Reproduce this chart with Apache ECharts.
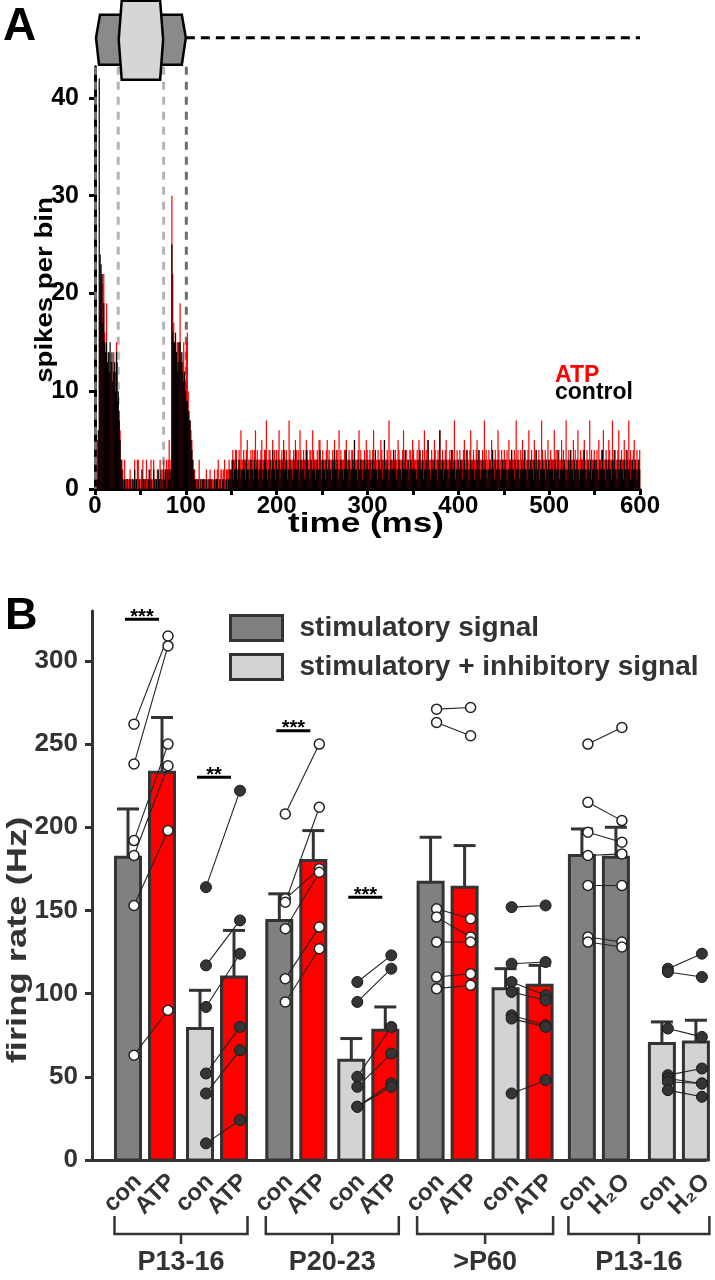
<!DOCTYPE html>
<html>
<head>
<meta charset="utf-8">
<script src="https://cdn.jsdelivr.net/npm/echarts@6/dist/echarts.min.js"></script>
<style>
  html, body { margin: 0; padding: 0; background: #fff; }
  #chart { width: 715px; height: 1280px; }
</style>
</head>
<body>
<div id="chart"></div>
<script>
// ---------- panel A: PSTH, spikes per 1 ms bin (0..599 ms) ----------
const binMs = 1;
const atpCounts = [
  0,0,5,2,3,18,21,22,21,22,16,12,19,12,11,14,12,10,13,11,14,9,12,15,13,8,8,6,3,3,2,1,3,1,1,1,1,1,2,1,1,1,1,3,1,1,3,3,1,1,
  1,1,3,1,1,1,3,1,1,1,2,3,1,1,3,1,1,1,2,1,1,3,1,1,2,3,1,2,3,2,3,5,3,2,30,22,17,15,15,14,15,15,12,19,14,13,13,15,12,11,
  15,16,10,8,7,6,5,3,2,2,1,1,1,1,3,1,1,0,1,1,1,1,2,1,1,1,2,1,1,1,1,2,1,1,2,3,1,1,2,2,1,2,3,1,2,2,2,3,2,2,
  3,4,3,3,4,4,2,3,4,3,6,3,3,4,3,3,4,5,3,3,3,4,3,4,3,4,6,3,4,3,3,3,4,5,3,3,4,4,7,3,3,4,4,3,3,5,3,4,3,4,
  3,4,6,3,3,4,3,5,4,3,4,3,3,7,4,3,3,3,4,3,5,4,3,4,3,6,4,3,3,4,3,3,5,4,3,3,4,4,3,6,4,3,3,3,4,3,5,5,3,3,
  4,3,3,3,4,5,3,4,3,3,3,4,3,5,3,4,4,3,6,3,4,3,3,3,4,4,5,3,3,4,3,3,4,4,3,5,3,3,3,4,6,3,4,3,3,3,4,3,5,4,
  3,3,4,3,3,4,6,3,4,3,3,4,3,3,5,4,3,3,5,3,3,4,3,7,3,4,3,3,4,3,4,3,3,5,4,3,3,3,4,6,3,4,4,3,3,3,4,4,3,5,
  4,3,3,3,4,3,5,4,3,3,4,3,6,3,4,3,5,3,3,3,4,3,3,5,4,3,3,4,3,6,3,3,4,3,3,4,5,3,3,3,4,3,4,4,3,7,3,3,4,3,
  3,4,3,3,3,4,5,3,4,3,3,3,4,6,3,3,4,3,3,4,5,3,4,3,3,3,4,3,7,3,4,3,3,4,3,3,5,4,3,3,4,3,3,6,4,3,3,4,3,3,
  4,3,3,4,3,5,3,3,4,3,3,4,3,7,3,4,3,3,4,3,5,3,3,4,3,3,4,6,3,3,4,3,3,5,3,4,3,3,4,3,3,7,4,3,3,4,3,3,5,3,
  3,4,3,3,3,6,3,4,3,3,4,3,3,5,3,4,3,3,7,3,3,4,3,4,3,3,5,3,4,3,3,6,3,3,4,3,3,4,5,3,3,4,3,3,7,3,4,3,3,4,
  3,3,4,3,5,3,3,4,3,6,3,3,4,3,3,5,4,3,3,7,3,3,4,3,3,4,6,3,3,4,3,3,5,3,4,3,3,7,3,4,3,3,4,5,3,3,4,3,3,4
];
const controlCounts = [
  0,0,1,6,42,24,23,22,17,19,15,14,15,13,14,12,15,13,14,11,12,13,10,14,9,10,7,5,3,2,1,0,1,0,0,1,0,0,1,0,0,1,0,2,0,1,0,0,1,0,
  0,2,0,1,0,1,0,0,1,2,0,1,0,0,2,1,0,1,0,2,1,0,2,1,0,2,1,2,0,2,1,2,1,2,25,16,15,15,16,14,12,13,15,15,13,14,12,11,12,10,
  9,9,8,7,7,5,4,3,2,1,1,0,0,1,0,0,1,0,1,1,0,0,1,0,0,1,0,1,0,0,0,1,0,1,1,0,0,1,0,0,1,1,0,0,1,0,1,1,2,1,
  2,3,1,2,2,3,1,2,3,2,1,2,2,3,2,1,3,2,2,1,2,3,2,2,1,3,2,2,3,1,2,2,3,2,1,2,3,3,2,1,2,2,3,1,2,4,2,2,1,3,
  2,2,3,1,2,3,2,4,2,2,3,1,2,2,3,2,2,1,3,2,4,2,2,3,1,2,3,2,2,3,1,2,4,3,2,2,1,3,2,2,3,2,1,2,3,2,2,4,2,1,
  3,2,2,1,3,2,2,3,2,2,1,3,2,4,2,2,3,1,2,2,3,2,2,1,2,3,4,2,2,3,1,2,2,3,2,5,2,2,1,3,2,2,3,2,1,2,3,2,2,3,
  2,2,3,1,2,3,2,2,4,2,1,2,3,2,2,3,1,2,5,2,2,3,2,1,2,3,2,2,4,2,3,1,2,2,3,2,2,1,3,2,2,4,2,2,3,1,2,3,2,2,
  3,2,2,1,2,3,2,4,2,2,3,1,2,2,3,2,5,2,2,1,3,2,2,3,2,2,1,3,2,6,2,2,3,1,2,2,3,2,2,1,3,2,4,2,2,3,1,2,2,3,
  2,2,3,2,1,2,3,2,2,4,2,1,2,3,2,2,3,1,2,2,3,2,4,2,1,2,3,2,2,3,2,1,2,2,3,2,2,4,2,1,3,2,2,3,2,2,1,2,3,2,
  2,3,2,1,2,2,3,2,4,2,2,1,3,2,2,3,2,1,2,3,2,2,4,2,2,1,3,2,2,3,2,2,1,3,2,4,2,2,3,1,2,2,3,2,2,1,3,2,2,3,
  2,2,3,2,1,2,3,2,2,4,2,1,2,3,2,2,3,2,1,2,2,3,2,4,2,2,1,3,2,2,3,2,2,1,2,3,2,2,4,2,1,2,3,2,2,3,1,2,2,3,
  2,3,2,2,1,3,2,2,4,2,2,1,3,2,2,3,2,2,1,3,2,4,2,2,1,3,2,2,3,2,2,1,3,2,2,4,2,2,3,1,2,3,2,2,3,2,1,2,3,2
];
const stimWindow = [0, 100];   // stimulatory signal (ms)
const inhibWindow = [25, 75];  // inhibitory signal (ms)
const timeTicks = [0, 100, 200, 300, 400, 500, 600];
const spikeTicks = [0, 10, 20, 30, 40];

// ---------- panel B: firing rates ----------
const ageGroups = ['P13-16', 'P20-23', '>P60', 'P13-16'];
const barLabels = ['con', 'ATP', 'con', 'ATP', 'con', 'ATP', 'con', 'ATP',
                   'con', 'ATP', 'con', 'ATP', 'con', 'H₂O', 'con', 'H₂O'];
const barFill = [0, 2, 1, 2, 0, 2, 1, 2, 0, 2, 1, 2, 0, 0, 1, 1]; // 0 stim, 1 stim+inh, 2 ATP
const barMeans = [182, 233, 79, 110, 144, 180, 60, 78, 167, 164, 103, 105, 183, 182, 70, 71];
const barErrTop = [211, 266, 102, 138, 160, 198, 73, 92, 194, 189, 115, 117, 199, 200, 83, 84];
const rateTicks = [0, 50, 100, 150, 200, 250, 300];

const p13StimCon = [262, 238, 192, 183, 153, 63];
const p13StimAtp = [315, 309, 250, 237, 198, 90];
const p13InhCon = [164, 117, 92, 52, 40, 10];
const p13InhAtp = [222, 144, 124, 80, 66, 24];
const p20StimCon = [208, 157, 155, 139, 109, 95];
const p20StimAtp = [250, 175, 212, 173, 140, 127];
const p20InhCon = [107, 95, 50, 44, 32, 32];
const p20InhAtp = [123, 115, 80, 64, 46, 44];
const p60StimCon = [271, 263, 151, 146, 131, 110, 103];
const p60StimAtp = [272, 255, 145, 134, 131, 112, 105];
const p60InhCon = [152, 118, 107, 101, 87, 85, 40];
const p60InhAtp = [153, 119, 99, 96, 81, 80, 48];
const h2oStimCon = [250, 215, 197, 183, 165, 134, 131];
const h2oStimH2o = [260, 204, 191, 184, 165, 131, 128];
const h2oInhCon = [115, 113, 79, 51, 49, 47, 42];
const h2oInhH2o = [124, 110, 74, 55, 46, 46, 38];

const sigPair = [0, 1, 2, 3];          // pair index (con/treatment) marked
const sigLevel = [325, 230, 258, 158];
const sigStars = ['***', '**', '***', '***'];

// ---------- style / layout ----------
const FONT = '"Liberation Sans", Arial, Helvetica, sans-serif';
const INK = '#333';
const FILLS = ['#808080', '#d3d3d3', '#ff0000'];
const BAR_W = 25;
const CAP_W = 22;
const FIRST_BAR = 36, GROUP_STEP = 151.3, BAR_STEP = 34;
const PAIR_STEP = [72, 72, 75, 80];
const DOT_SHIFT = 6;

function slotX(i) {
  const g = Math.floor(i / 4), k = i % 4;
  return FIRST_BAR + g * GROUP_STEP + (k >> 1) * PAIR_STEP[g] + (k & 1) * BAR_STEP;
}

const cells = [
  [p13StimCon, p13StimAtp], [p13InhCon, p13InhAtp],
  [p20StimCon, p20StimAtp], [p20InhCon, p20InhAtp],
  [p60StimCon, p60StimAtp], [p60InhCon, p60InhAtp],
  [h2oStimCon, h2oStimH2o], [h2oInhCon, h2oInhH2o]
];

const openDots = [], filledDots = [], links = [];
cells.forEach((c, ci) => {
  const x0 = slotX(ci * 2) + DOT_SHIFT, x1 = slotX(ci * 2 + 1) + DOT_SHIFT;
  const target = ci % 2 === 0 ? openDots : filledDots;
  c[0].forEach((v, j) => {
    target.push([x0, v]);
    target.push([x1, c[1][j]]);
    links.push([x0, v, x1, c[1][j]]);
  });
});

const barData = barMeans.map((m, i) => [slotX(i), m, barErrTop[i], barFill[i], i]);

// ---------- render helpers ----------
function renderBin(params, api) {
  const v = api.value(1);
  if (!v) return null;
  const t = api.value(0);
  const p0 = api.coord([t, 0]);
  const p1 = api.coord([t + binMs, v]);
  return {
    type: 'rect',
    shape: { x: p0[0], y: p1[1], width: p1[0] - p0[0] + 0.3, height: p0[1] - p1[1] },
    style: { fill: api.visual('color') }
  };
}

function renderStimLines(params, api) {
  const times = [api.value(0), api.value(1), api.value(2), api.value(3)];
  const colors = ['#6e6e6e', '#b4b4b4', '#b4b4b4', '#6e6e6e'];
  return {
    type: 'group',
    children: times.map((t, i) => {
      const top = api.coord([t, 43.2]), bot = api.coord([t, 0]);
      return {
        type: 'line',
        shape: { x1: top[0] + 0.5, y1: top[1], x2: bot[0] + 0.5, y2: bot[1] },
        style: { stroke: colors[i], lineWidth: 3, lineDash: [8, 7] }
      };
    })
  };
}

function renderStimBoxes(params, api) {
  const a = api.coord([api.value(0), 43.2]), b = api.coord([api.value(1), 43.2]);
  const c = api.coord([api.value(2), 43.2]), d = api.coord([api.value(3), 43.2]);
  const end = api.coord([600, 43.2]);
  const top = a[1];
  const yMid = top - 29;
  return {
    type: 'group',
    children: [
      { type: 'line', shape: { x1: b[0], y1: yMid, x2: end[0], y2: yMid },
        style: { stroke: '#000', lineWidth: 3, lineDash: [9, 6] } },
      { type: 'polygon',
        shape: { points: [[a[0] + 5, top - 52], [b[0] - 4, top - 52], [b[0], yMid], [b[0] - 4, top - 2],
                          [a[0] + 4, top - 2], [a[0] + 1, yMid]] },
        style: { fill: '#8a8a8a', stroke: '#000', lineWidth: 2.5 } },
      { type: 'polygon',
        shape: { points: [[c[0] + 4, top - 66], [d[0] - 3, top - 66], [d[0], yMid + 2], [d[0] - 3, top + 13],
                          [c[0] + 4, top + 13], [c[0] + 1, yMid + 2]] },
        style: { fill: '#d6d6d6', stroke: '#000', lineWidth: 2.5 } }
    ]
  };
}

function renderBar(params, api) {
  const x = api.value(0), m = api.value(1), e = api.value(2), f = api.value(3);
  const base = api.coord([x, 0]), top = api.coord([x, m]), et = api.coord([x, e]);
  return {
    type: 'group',
    children: [
      { type: 'line', shape: { x1: top[0], y1: top[1], x2: top[0], y2: et[1] },
        style: { stroke: INK, lineWidth: 3 } },
      { type: 'line', shape: { x1: top[0] - CAP_W / 2, y1: et[1], x2: top[0] + CAP_W / 2, y2: et[1] },
        style: { stroke: INK, lineWidth: 3 } },
      { type: 'rect', shape: { x: base[0] - BAR_W / 2, y: top[1], width: BAR_W, height: base[1] - top[1] },
        style: { fill: FILLS[f], stroke: INK, lineWidth: 3 } }
    ]
  };
}

function renderLink(params, api) {
  const p0 = api.coord([api.value(0), api.value(1)]);
  const p1 = api.coord([api.value(2), api.value(3)]);
  return { type: 'line', shape: { x1: p0[0], y1: p0[1], x2: p1[0], y2: p1[1] },
           style: { stroke: '#222', lineWidth: 1.1 } };
}

function renderCatLabel(params, api) {
  const i = api.value(4);
  const p = api.coord([api.value(0), 0]);
  return {
    type: 'text', x: p[0] + 10, y: p[1] + 18, rotation: Math.PI / 4,
    style: { text: barLabels[i], font: 'bold 24px ' + FONT, fill: INK,
             align: 'right', verticalAlign: 'middle', textAlign: 'right', textVerticalAlign: 'middle' }
  };
}

function renderGroup(params, api) {
  const g = api.value(0);
  const l = api.coord([slotX(g * 4) - BAR_W / 2 - 1, 0]);
  const r = api.coord([slotX(g * 4 + 3) + BAR_W / 2 + 1, 0]);
  const y = l[1] + 74, mid = (l[0] + r[0]) / 2;
  const st = { stroke: INK, lineWidth: 2.5 };
  return {
    type: 'group',
    children: [
      { type: 'polyline', shape: { points: [[l[0], y - 18], [l[0], y], [r[0], y], [r[0], y - 18]] }, style: Object.assign({ fill: null }, st) },
      { type: 'line', shape: { x1: mid, y1: y, x2: mid, y2: y + 10 }, style: st },
      { type: 'text', x: mid, y: y + 29,
        style: { text: ageGroups[g], font: 'bold 27px ' + FONT, fill: INK,
                 align: 'center', verticalAlign: 'middle', textAlign: 'center', textVerticalAlign: 'middle' } }
    ]
  };
}

function renderSig(params, api) {
  const k = api.value(0);
  const p0 = api.coord([slotX(k * 2) - 3, api.value(1)]);
  const p1 = api.coord([slotX(k * 2 + 1) - 3, api.value(1)]);
  return {
    type: 'group',
    children: [
      { type: 'line', shape: { x1: p0[0], y1: p0[1], x2: p1[0], y2: p1[1] }, style: { stroke: '#000', lineWidth: 3 } },
      { type: 'text', x: (p0[0] + p1[0]) / 2, y: p0[1] + 8,
        style: { text: sigStars[api.value(2)], font: 'bold 20px ' + FONT, fill: '#000',
                 align: 'center', verticalAlign: 'bottom', textAlign: 'center', textVerticalAlign: 'bottom' } }
    ]
  };
}

function vText(text, x, y, size, stretch, color) {
  return {
    type: 'text', x: x, y: y, rotation: Math.PI / 2, scaleX: stretch,
    style: { text: text, font: 'bold ' + size + 'px ' + FONT, fill: color,
             align: 'center', verticalAlign: 'middle', textAlign: 'center', textVerticalAlign: 'middle' }
  };
}

const chart = echarts.init(document.getElementById('chart'), null, { renderer: 'canvas' });

const option = {
  animation: false,
  backgroundColor: '#fff',
  textStyle: { fontFamily: FONT },
  grid: [
    { left: 95, top: 66.7, width: 545, height: 422.3 },
    { left: 92, top: 611, width: 613, height: 549 }
  ],
  legend: [
    {
      data: [{ name: 'ATP', textStyle: { color: '#ff0000' } }, { name: 'control', textStyle: { color: '#000' } }],
      orient: 'vertical', left: 550, top: 364, icon: 'none', itemWidth: 0, itemHeight: 10, itemGap: -6, padding: 0,
      selectedMode: false,
      textStyle: { fontSize: 23, fontWeight: 'bold', fontFamily: FONT }
    },
    {
      data: ['stimulatory signal', 'stimulatory + inhibitory signal'],
      orient: 'vertical', left: 229, top: 614, icon: 'rect', itemWidth: 52, itemHeight: 25, itemGap: 11, padding: 0,
      selectedMode: false,
      itemStyle: { borderColor: INK, borderWidth: 3 },
      textStyle: { fontSize: 28, fontWeight: 'bold', color: INK, fontFamily: FONT, padding: [0, 0, 0, 12] }
    }
  ],
  xAxis: [
    {
      type: 'value', gridIndex: 0, min: 0, max: 600, interval: 50,
      axisLine: { lineStyle: { color: '#000', width: 3 } },
      axisTick: { length: 6, lineStyle: { color: '#000', width: 3 } },
      splitLine: { show: false },
      axisLabel: { color: '#000', fontSize: 24, fontWeight: 'bold', margin: 5,
                   formatter: v => (timeTicks.indexOf(v) >= 0 ? String(v) : '') }
    },
    {
      type: 'value', gridIndex: 1, min: 0, max: 613,
      axisLine: { lineStyle: { color: INK, width: 3 } },
      axisTick: { show: false }, axisLabel: { show: false }, splitLine: { show: false }
    }
  ],
  yAxis: [
    {
      type: 'value', gridIndex: 0, min: 0, max: 43.2, interval: 10,
      axisLine: { show: true, lineStyle: { color: '#000', width: 3 } },
      axisTick: { show: true, length: 6, customValues: spikeTicks, lineStyle: { color: '#000', width: 3 } },
      splitLine: { show: false },
      axisLabel: { color: '#000', fontSize: 25, fontWeight: 'bold', margin: 16, customValues: spikeTicks,
                   formatter: v => (spikeTicks.indexOf(v) >= 0 ? String(v) : '') }
    },
    {
      type: 'value', gridIndex: 1, min: 0, max: 330, interval: 50,
      axisLine: { show: true, lineStyle: { color: INK, width: 3 } },
      axisTick: { show: true, length: 7, customValues: rateTicks, lineStyle: { color: INK, width: 3 } },
      splitLine: { show: false },
      axisLabel: { color: INK, fontSize: 26, fontWeight: 'bold', margin: 14, customValues: rateTicks,
                   formatter: v => (rateTicks.indexOf(v) >= 0 ? String(v) : '') }
    }
  ],
  graphic: [
    { type: 'text', x: 3, y: 4, style: { text: 'A', font: 'bold 46px ' + FONT, fill: '#000' } },
    { type: 'text', x: 5, y: 594, style: { text: 'B', font: 'bold 45px ' + FONT, fill: '#000' } },
    vText('spikes per bin', 46, 290, 23, 1.2, '#000'),
    vText('firing rate (Hz)', 18, 940, 28, 1.3, INK),
    { type: 'text', x: 366, y: 525, scaleX: 1.3,
      style: { text: 'time (ms)', font: 'bold 27px ' + FONT, fill: '#000',
               align: 'center', verticalAlign: 'middle', textAlign: 'center', textVerticalAlign: 'middle' } }
  ],
  series: [
    {
      type: 'custom', name: 'stimulus lines', xAxisIndex: 0, yAxisIndex: 0, z: 1, silent: true,
      renderItem: renderStimLines, clip: false,
      data: [[stimWindow[0], inhibWindow[0], inhibWindow[1], stimWindow[1]]]
    },
    {
      type: 'custom', name: 'ATP', xAxisIndex: 0, yAxisIndex: 0, z: 2,
      itemStyle: { color: '#ff0000' }, renderItem: renderBin,
      encode: { x: 0, y: 1 },
      data: atpCounts.map((v, i) => [i * binMs, v])
    },
    {
      type: 'custom', name: 'control', xAxisIndex: 0, yAxisIndex: 0, z: 3,
      itemStyle: { color: '#000' }, renderItem: renderBin,
      encode: { x: 0, y: 1 },
      data: controlCounts.map((v, i) => [i * binMs, v])
    },
    {
      type: 'custom', name: 'stimulus', xAxisIndex: 0, yAxisIndex: 0, z: 6, silent: true,
      renderItem: renderStimBoxes, clip: false,
      data: [[stimWindow[0], stimWindow[1], inhibWindow[0], inhibWindow[1]]]
    },
    {
      type: 'custom', name: 'stimulatory signal', xAxisIndex: 1, yAxisIndex: 1, z: 2,
      itemStyle: { color: FILLS[0] }, renderItem: renderBar, encode: { x: 0, y: 1 },
      data: barData.filter(d => d[4] % 4 < 2)
    },
    {
      type: 'custom', name: 'stimulatory + inhibitory signal', xAxisIndex: 1, yAxisIndex: 1, z: 2,
      itemStyle: { color: FILLS[1] }, renderItem: renderBar, encode: { x: 0, y: 1 },
      data: barData.filter(d => d[4] % 4 >= 2)
    },
    {
      type: 'custom', name: 'links', xAxisIndex: 1, yAxisIndex: 1, z: 3, silent: true,
      renderItem: renderLink, data: links
    },
    {
      type: 'scatter', name: 'stim cells', xAxisIndex: 1, yAxisIndex: 1, z: 4,
      symbol: 'circle', symbolSize: 10,
      itemStyle: { color: '#fff', borderColor: '#222', borderWidth: 1.5, opacity: 1 },
      data: openDots
    },
    {
      type: 'scatter', name: 'stim+inh cells', xAxisIndex: 1, yAxisIndex: 1, z: 4,
      symbol: 'circle', symbolSize: 11,
      itemStyle: { color: '#353535', borderColor: '#1a1a1a', borderWidth: 1, opacity: 1 },
      data: filledDots
    },
    {
      type: 'custom', name: 'significance', xAxisIndex: 1, yAxisIndex: 1, z: 5, silent: true,
      renderItem: renderSig, clip: false,
      data: sigPair.map((p, i) => [p, sigLevel[i], i])
    },
    {
      type: 'custom', name: 'bar labels', xAxisIndex: 1, yAxisIndex: 1, z: 5, silent: true,
      renderItem: renderCatLabel, clip: false,
      data: barData
    },
    {
      type: 'custom', name: 'age groups', xAxisIndex: 1, yAxisIndex: 1, z: 5, silent: true,
      renderItem: renderGroup, clip: false,
      data: ageGroups.map((g, i) => [i])
    }
  ]
};

chart.setOption(option);
</script>
</body>
</html>
